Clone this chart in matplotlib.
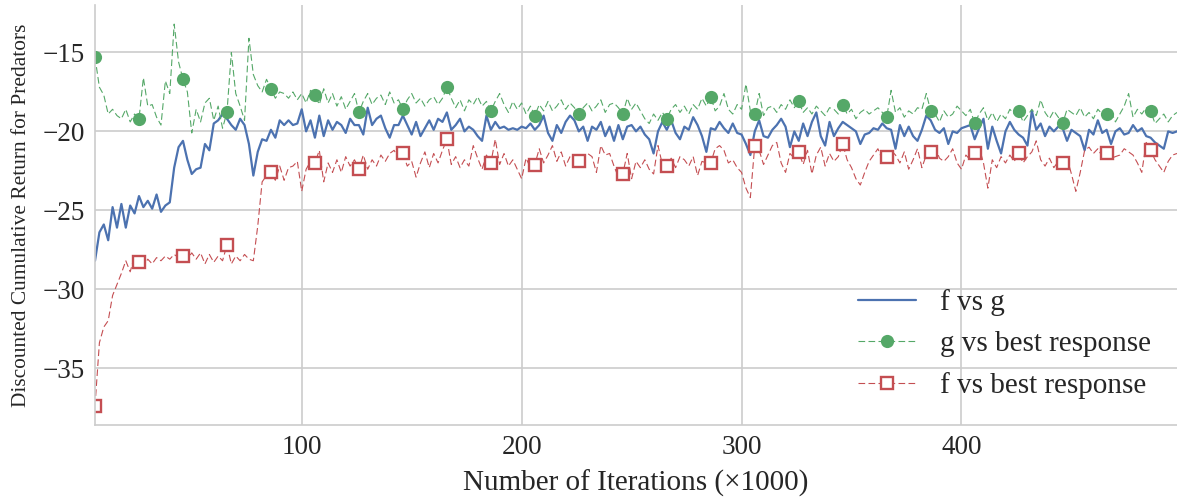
import numpy as np
import matplotlib
matplotlib.use("Agg")
import matplotlib.pyplot as plt
import seaborn as sns

# x positions (thousands of iterations)
iterations = list(range(6, 499, 2))

f_vs_g = [
    -28.2, -26.4, -25.9, -26.9, -24.8, -26.1, -24.6, -26.1, -24.7, -25.2,
    -24.1, -24.8, -24.4, -24.9, -24.0, -25.1, -24.7, -24.5, -22.3, -21.0,
    -20.6, -21.8, -22.7, -22.4, -22.3, -20.8, -21.2, -19.5, -19.3, -18.9,
    -19.2, -19.6, -19.9, -19.2, -19.6, -20.8, -22.8, -21.3, -20.5, -20.6,
    -19.9, -20.4, -19.3, -19.6, -19.3, -19.6, -19.5, -18.6, -20.0, -19.3,
    -20.4, -19.0, -20.3, -19.3, -19.9, -19.4, -19.6, -20.1, -19.2, -19.6,
    -19.6, -20.2, -18.5, -19.6, -19.2, -19.0, -19.8, -20.4, -19.6, -19.6,
    -19.0, -19.6, -20.2, -19.4, -20.3, -19.8, -19.3, -19.9, -19.2, -19.4,
    -18.8, -19.9, -19.6, -19.2, -20.0, -19.7, -19.9, -20.3, -20.6, -19.0,
    -19.9, -19.4, -19.8, -19.7, -19.9, -19.8, -19.9, -19.7, -19.8, -19.5,
    -19.9, -19.6, -19.0, -20.1, -20.6, -19.6, -20.1, -19.4, -19.0, -19.3,
    -20.0, -19.7, -20.6, -19.7, -19.9, -19.4, -20.3, -19.7, -20.6, -19.6,
    -20.5, -19.7, -19.6, -20.0, -19.7, -20.2, -20.5, -21.4, -20.0, -19.4,
    -19.9, -19.3, -20.1, -20.5, -19.7, -19.9, -19.1, -19.6, -20.3, -21.3,
    -19.8, -19.9, -19.4, -19.8, -20.1, -19.5, -20.1, -20.2, -20.8, -21.5,
    -20.0, -19.3, -20.3, -20.4, -19.9, -19.6, -19.2, -19.7, -21.0, -20.0,
    -20.6, -19.5, -20.3, -19.4, -18.8, -20.3, -20.9, -19.4, -20.3, -19.8,
    -19.4, -19.6, -19.8, -20.0, -20.8, -20.2, -20.1, -19.8, -19.9, -19.5,
    -19.8, -19.9, -21.1, -19.6, -20.3, -19.7, -20.3, -20.6, -19.9, -19.0,
    -19.3, -19.9, -20.1, -19.8, -20.8, -20.0, -20.1, -19.8, -19.7, -19.6,
    -20.5, -19.8, -19.2, -21.1, -19.7, -20.6, -21.4, -20.0, -19.4, -19.9,
    -20.2, -20.4, -20.9, -18.7, -19.9, -19.5, -20.3, -19.7, -20.0, -19.7,
    -19.8, -20.6, -19.9, -20.1, -20.3, -21.2, -19.9, -20.2, -19.3, -20.1,
    -19.9, -20.8, -20.0, -19.8, -20.2, -20.1, -19.6, -20.0, -19.8, -20.3,
    -20.4, -20.7, -20.9, -21.1, -20.0, -20.1, -20.0,
]

g_vs_best = [
    -15.3, -17.2, -17.7, -18.9, -18.6, -19.0, -19.2, -18.6, -19.4, -18.9,
    -19.2, -16.6, -18.4, -18.3, -19.1, -19.6, -16.8, -17.6, -13.2, -15.6,
    -16.7, -17.5, -20.1, -18.6, -19.4, -18.2, -17.9, -19.3, -18.4, -19.8,
    -18.8, -15.0, -17.6, -18.4, -19.3, -14.1, -16.4, -17.1, -17.5, -16.7,
    -17.3, -17.9, -17.5, -17.6, -17.9, -17.5, -18.0, -17.6, -18.2, -17.4,
    -17.7, -18.3, -17.3, -18.2, -17.6, -18.4, -17.8, -18.6, -18.1, -17.6,
    -18.8, -18.1, -17.6, -18.3, -17.9, -17.7, -18.3, -17.5, -18.2, -18.0,
    -18.6, -18.0, -17.6, -18.2, -17.9, -18.4, -18.0, -17.8, -18.3, -17.9,
    -17.2, -17.9, -18.5, -18.0, -18.7, -18.0, -18.3, -17.8, -18.4, -18.1,
    -18.7, -18.1, -17.6, -18.3, -18.8, -18.1, -18.6, -18.2, -18.9, -18.4,
    -19.0, -18.3, -18.7, -18.1, -18.7, -18.4, -18.0, -18.6, -18.2, -18.5,
    -18.9, -18.5, -18.2, -18.7, -18.4, -18.0, -18.8, -18.3, -18.2, -18.5,
    -18.9, -17.9, -18.6, -18.2, -18.7, -19.2, -19.5, -18.9, -19.3, -18.8,
    -19.2, -18.6, -18.3, -18.8, -18.4, -18.9, -18.3, -18.6, -17.9, -18.4,
    -17.8, -18.7, -18.4, -17.6, -18.6, -18.9, -18.3, -18.6, -17.0, -18.7,
    -18.9, -17.6, -19.0, -18.5, -18.4, -18.8, -18.3, -18.6, -18.0, -18.5,
    -18.1, -18.8, -18.5, -18.9, -18.4, -18.7, -19.0, -18.5, -18.6, -18.9,
    -18.3, -18.9, -18.6, -19.2, -18.8, -18.6, -18.9, -18.7, -18.5, -18.8,
    -19.1, -17.4, -18.8, -18.5, -19.1, -18.7, -18.9, -18.5, -18.6, -17.6,
    -18.7, -18.9, -19.4, -18.7, -19.1, -18.9, -18.4, -18.7, -19.0, -18.6,
    -19.5, -18.9, -18.5, -19.3, -18.8, -19.4, -18.9, -19.2, -18.6, -18.9,
    -18.7, -19.4, -19.0, -18.6, -19.0, -18.0, -18.8, -19.2, -18.7, -19.1,
    -19.5, -18.6, -18.8, -19.0, -18.5, -19.1, -18.8, -19.2, -18.6, -18.9,
    -18.9, -18.7, -19.4, -18.9, -18.4, -17.6, -19.1, -18.6, -18.9, -18.5,
    -18.7, -19.5, -19.2, -18.9, -19.4, -19.0, -18.8,
]

f_vs_best = [
    -37.4, -33.4, -32.4, -32.0, -30.4, -29.7, -29.0, -28.2, -28.9, -27.9,
    -28.3, -28.6, -28.1, -28.4, -28.0, -28.2, -27.9, -28.1, -27.8, -28.0,
    -27.9, -28.1, -27.7, -28.1, -27.7, -28.4, -27.8, -28.3, -27.9, -28.2,
    -27.2, -28.4, -27.9, -28.2, -27.8, -28.1, -28.2, -26.0, -23.2, -22.8,
    -22.6, -23.1, -22.2, -23.1, -22.3, -22.2, -21.9, -23.8, -22.4, -21.9,
    -22.0, -21.2, -23.2, -22.0, -22.6, -21.8, -22.6, -21.6, -22.2, -21.8,
    -22.4, -21.5, -22.4, -21.8, -22.2, -21.5, -21.9, -21.4, -21.2, -21.7,
    -21.4, -22.2, -21.9, -22.9, -22.0, -21.3, -22.3, -21.4, -22.0, -21.2,
    -20.5, -22.1, -21.6, -22.3, -21.8, -22.2, -20.9, -21.7, -22.4, -21.5,
    -22.0, -20.5, -22.1, -21.4, -22.2, -21.8, -22.4, -23.0, -21.7, -22.3,
    -22.1, -21.1, -22.0, -21.5, -20.9, -21.9, -21.3, -22.2, -21.6, -21.9,
    -21.9, -21.7, -21.4, -21.6, -22.6, -20.9, -21.5, -21.4, -22.2, -22.9,
    -22.7, -21.4, -23.0, -21.9, -22.3, -21.8, -22.4, -22.7, -20.9, -22.1,
    -22.2, -21.7, -22.3, -21.6, -21.8, -22.2, -21.6, -22.8, -21.9, -22.0,
    -22.0, -21.1, -20.9, -21.2, -22.0, -21.8, -22.3, -22.6, -23.6, -24.2,
    -20.9, -21.2, -22.1, -21.5, -20.9, -20.7, -22.0, -22.6, -21.4, -21.7,
    -21.3, -22.1, -21.2, -22.7, -21.5, -21.0, -22.2, -21.4, -21.9, -21.6,
    -20.8, -21.8, -22.3, -23.0, -23.4, -22.6, -21.9, -21.5, -21.1, -21.8,
    -21.6, -21.2, -21.5, -22.0, -21.3, -22.4, -21.8, -21.1, -22.3, -21.5,
    -21.3, -21.0, -21.7, -21.9, -21.6, -21.1, -22.0, -22.4, -21.5, -21.8,
    -21.4, -21.0, -22.0, -23.6, -21.8, -22.3, -21.6, -22.0, -21.5, -21.9,
    -21.4, -22.0, -21.6, -21.3, -20.6, -21.8, -22.2, -21.7, -22.3, -21.9,
    -22.0, -21.7, -22.7, -23.8, -22.6, -21.2, -21.0, -21.4, -21.1, -21.6,
    -21.4, -21.7, -21.6, -21.5, -21.1, -21.3, -21.5, -22.0, -22.6, -20.7,
    -21.2, -21.8, -22.2, -22.6, -21.9, -21.5, -21.4,
]

series_labels = ["f vs g", "g vs best response", "f vs best response"]
x_ticks = [100, 200, 300, 400]
y_ticks = [-35, -30, -25, -20, -15]

sns.set_style("whitegrid")
plt.rcParams["font.family"] = ["Liberation Serif", "DejaVu Serif"]
plt.rcParams["axes.unicode_minus"] = True

blue, green, red = "#4C72B0", "#55A868", "#C44E52"

fig = plt.figure(figsize=(11.77, 5.0), dpi=100)
ax = fig.add_axes([95 / 1177, 75 / 500, 1 - 95 / 1177, 420 / 500])

ax.plot(iterations, f_vs_g, color=blue, lw=1.6, label=series_labels[0])
ax.plot(iterations, g_vs_best, color=green, lw=0.8, dashes=(6, 3),
        marker="o", markevery=10, markersize=9.5, markeredgewidth=0,
        label=series_labels[1])
ax.plot(iterations, f_vs_best, color=red, lw=0.8, dashes=(6, 3),
        marker="s", markevery=10, markersize=8.5, markerfacecolor="white",
        markeredgecolor=red, markeredgewidth=1.7, label=series_labels[2])

ax.set_xlim(iterations[0], iterations[-1])
ax.margins(y=0.05)
ax.set_xticks(x_ticks)
ax.set_yticks(y_ticks)
ax.tick_params(labelsize=19.5, colors="#262626", pad=4)
ax.set_xlabel("Number of Iterations (×1000)", fontsize=21, color="#262626", labelpad=7)
ax.set_ylabel("Discounted Cumulative Return for Predators", fontsize=15.4, color="#262626", labelpad=8)

for s in ["top", "right"]:
    ax.spines[s].set_visible(False)
for s in ["left", "bottom"]:
    ax.spines[s].set_color("#cccccc")
    ax.spines[s].set_linewidth(1.2)
ax.grid(True, color="#cccccc", lw=1.2)

leg = ax.legend(loc="lower right", frameon=False, fontsize=21, handlelength=2.0)
for t in leg.get_texts():
    t.set_color("#262626")

fig.savefig("out.png", dpi=100)
